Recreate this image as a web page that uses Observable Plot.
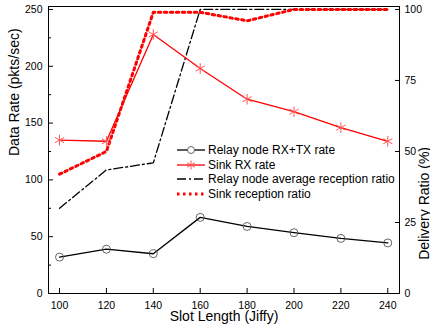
<!DOCTYPE html>
<html><head><meta charset="utf-8">
<script src="https://cdn.jsdelivr.net/npm/d3@7"></script>
<script src="https://cdn.jsdelivr.net/npm/@observablehq/plot@0.6"></script>
<style>
body{margin:0;background:#fff;font-family:"Liberation Sans",Arial,sans-serif;}
#wrap{position:relative;width:430px;height:331px;overflow:hidden;}
.row{position:absolute;left:177px;height:14px;display:flex;align-items:center;font-size:12px;white-space:nowrap;color:#000;}
.row svg{margin-right:3px;}
</style></head><body><div id="wrap"></div>
<script>
const slotLength = [100, 120, 140, 160, 180, 200, 220, 240];
const relayRate  = [32, 39, 35, 67, 59, 53.5, 48.5, 44.5];
const sinkRate   = [135, 134, 228, 198, 171, 160, 146, 134];
const relayRatio = [30, 43.5, 46, 100, 100, 100, 100, 100];
const sinkRatio  = [42, 50, 99, 99, 96, 100, 100, 100];
const xTicks = [100, 120, 140, 160, 180, 200, 220, 240];
const leftTicks = [0, 50, 100, 150, 200, 250];
const leftMinor = [25, 75, 125, 175, 225];
const rightTicks = [0, 25, 50, 75, 100];
const seriesNames = ["Relay node RX+TX rate", "Sink RX rate", "Relay node average reception ratio", "Sink reception ratio"];
const xTitle = "Slot Length (Jiffy)";
const yTitle = "Data Rate (pkts/sec)";
const y2Title = "Delivery Ratio (%)";

const ratioFactor = 250 / 100;
const rows = slotLength.map((s, i) => ({
  slot: s, relayRate: relayRate[i], sinkRate: sinkRate[i],
  relayRatio: relayRatio[i] * ratioFactor, sinkRatio: sinkRatio[i] * ratioFactor
}));

const chart = Plot.plot({
  width: 430, height: 331,
  marginLeft: 48, marginRight: 31, marginTop: 6, marginBottom: 38,
  style: {fontFamily: "Liberation Sans, Arial, sans-serif", fontSize: "10.5px", background: "#fff", overflow: "visible"},
  x: {domain: [95.3, 245], label: null},
  y: {domain: [0, 252.6], label: null},
  marks: [
    Plot.axisX({ticks: xTicks, tickSize: -5, tickPadding: 13, label: null, tickFormat: d => d}),
    Plot.axisY({ticks: leftTicks, tickSize: -5, tickPadding: 11, label: null, tickFormat: d => d}),
    Plot.axisY({ticks: leftMinor, tickSize: -3, label: null, tickFormat: () => ""}),
    Plot.axisY({ticks: rightTicks.map(v => v * ratioFactor), anchor: "right", tickSize: -5, tickPadding: 10, label: null, tickFormat: d => d / ratioFactor}),
    Plot.frame({stroke: "black", strokeWidth: 1}),
    Plot.line(rows, {x: "slot", y: "relayRatio", stroke: "black", strokeWidth: 1.3, strokeDasharray: "9,3,2,3"}),
    Plot.line(rows, {x: "slot", y: "sinkRatio", stroke: "#ff0000", strokeWidth: 3, strokeDasharray: "2.5,3.5"}),
    Plot.line(rows, {x: "slot", y: "relayRate", stroke: "black", strokeWidth: 1.3}),
    Plot.dot(rows, {x: "slot", y: "relayRate", r: 4, stroke: "#555", fill: "none", strokeWidth: 0.9}),
    Plot.line(rows, {x: "slot", y: "sinkRate", stroke: "#ff0000", strokeWidth: 1.3}),
    Plot.dot(rows, {x: "slot", y: "sinkRate", r: 5, symbol: "asterisk", stroke: "#ff5555", strokeWidth: 1}),
    Plot.text([yTitle], {text: d => d, frameAnchor: "left", dx: -34, dy: 6, rotate: -90, fontSize: 14}),
    Plot.text([y2Title], {text: d => d, frameAnchor: "right", dx: 25, dy: -3, rotate: -90, fontSize: 14}),
    Plot.text([xTitle], {text: d => d, frameAnchor: "bottom", dy: 27, fontSize: 14})
  ]
});
const wrap = document.getElementById("wrap");
wrap.appendChild(chart);

// Legend overlay
const samples = [
  `<line x1="0" y1="7" x2="28" y2="7" stroke="black" stroke-width="1.3"/><circle cx="14" cy="7" r="3.5" fill="white" stroke="#555" stroke-width="0.9"/>`,
  `<line x1="0" y1="7" x2="28" y2="7" stroke="#ff0000" stroke-width="1.3"/>` +
    d3.range(6).map(k => { const a = k * Math.PI / 3; return `<line x1="14" y1="7" x2="${14 + 4.5 * Math.sin(a)}" y2="${7 - 4.5 * Math.cos(a)}" stroke="#ff5555" stroke-width="1"/>`; }).join(""),
  `<line x1="0" y1="7" x2="28" y2="7" stroke="black" stroke-width="1.3" stroke-dasharray="9,3,2,3"/>`,
  `<line x1="0" y1="7" x2="28" y2="7" stroke="#ff0000" stroke-width="3" stroke-dasharray="2.5,3.5"/>`
];
const rowTops = [143, 157.5, 172, 187];
seriesNames.forEach((name, i) => {
  const div = document.createElement("div");
  div.className = "row";
  div.style.top = rowTops[i] + "px";
  div.innerHTML = `<svg width="28" height="14">${samples[i]}</svg><span>${name}</span>`;
  wrap.appendChild(div);
});
</script>
</body></html>
